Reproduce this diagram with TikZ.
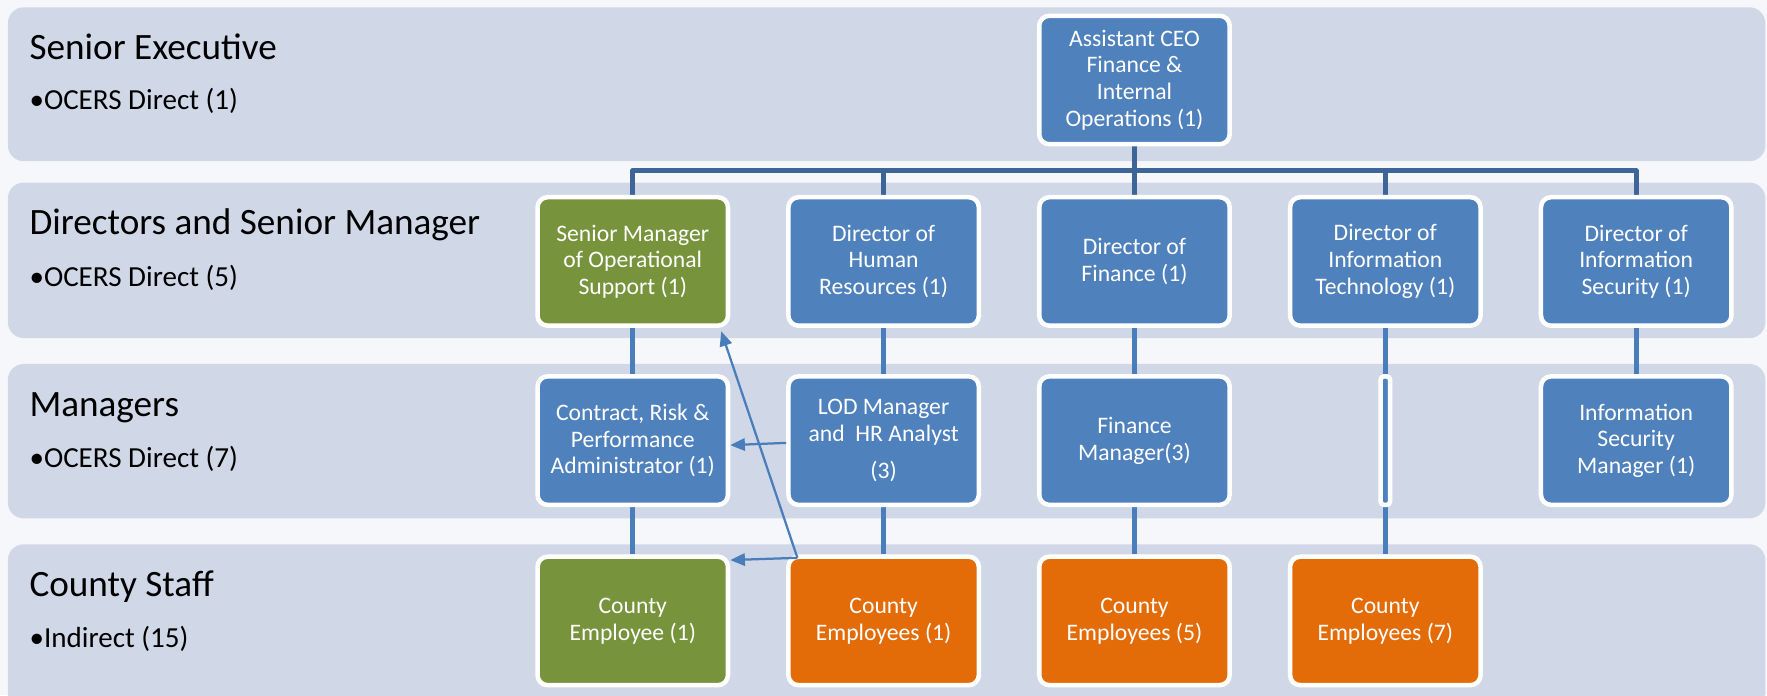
\documentclass[tikz,border=0pt]{standalone}
\usepackage{fontspec}
\setmainfont{Carlito}
\usetikzlibrary{arrows.meta,calc}
\pgfdeclarelayer{bg}
\pgfdeclarelayer{lines}
\pgfsetlayers{bg,lines,main}
\definecolor{bandc}{HTML}{D0D8E8}
\definecolor{boxblue}{HTML}{4F81BD}
\definecolor{boxgreen}{HTML}{77933C}
\definecolor{boxorange}{HTML}{E36C09}
\definecolor{buscol}{HTML}{3D6597}
\definecolor{linkcol}{HTML}{4A7EBB}
\definecolor{bgc}{HTML}{F6F7FA}
\begin{document}
\begin{tikzpicture}[x=1bp,y=-1bp,
  orgbox/.style={draw=white, line width=4bp, rounded corners=9bp,
    minimum width=169bp, minimum height=114bp, inner sep=0pt, text=white,
    align=center, font=\fontsize{21bp}{23.6bp}\selectfont},
  bluebox/.style={orgbox, fill=boxblue},
  greenbox/.style={orgbox, fill=boxgreen},
  orangebox/.style={orgbox, fill=boxorange},
  slimbox/.style={draw=white, line width=4bp, rounded corners=3bp, fill=boxblue,
    minimum width=8.4bp, minimum height=114bp, inner sep=0pt},
  band/.style={fill=bandc, rounded corners=14bp},
  lbl/.style={anchor=base west, inner sep=0pt, font=\fontsize{33bp}{36bp}\selectfont},
  sublbl/.style={anchor=base west, inner sep=0pt, font=\fontsize{25.8bp}{28bp}\selectfont},
  busline/.style={draw=buscol, line width=4.4bp, line join=round},
  link/.style={draw=linkcol, line width=4.4bp},
  relarrow/.style={draw=linkcol, line width=2bp, -{Triangle[length=13bp,width=11bp]}}]
\useasboundingbox (0,0) rectangle (1568,617);
\begin{pgfonlayer}{bg}
\fill[bgc] (0,0) rectangle (1568,617);
\clip (0,0) rectangle (1568,617);
\fill[band] (7,6.5) rectangle (1566.5,143);
\fill[band] (7,162) rectangle (1566.5,300);
\fill[band] (7,323) rectangle (1566.5,460);
\fill[band] (7,483) rectangle (1566.5,640);
\end{pgfonlayer}

% left labels
\node[lbl] (l1) at (26,52.7) {Senior Executive};
\node[sublbl] (s1) at (26,97) {\textbullet OCERS Direct (1)};
\node[lbl] (l2) at (26,208.5) {Directors and Senior Manager};
\node[sublbl] (s2) at (26,254.4) {\textbullet OCERS Direct (5)};
\node[lbl] (l3) at (26,369.5) {Managers};
\node[sublbl] (s3) at (26,415) {\textbullet OCERS Direct (7)};
\node[lbl] (l4) at (26,529.5) {County Staff};
\node[sublbl] (s4) at (26,575) {\textbullet Indirect (15)};

% org boxes
\node[bluebox] (ceo) at (1006.7,71) {Assistant CEO\\Finance \&\\Internal\\Operations (1)};

\node[greenbox] (d1) at (561.5,232) {Senior Manager\\of Operational\\Support (1)};
\node[bluebox] (d2) at (784.1,232) {Director of\\Human\\Resources (1)};
\node[bluebox] (d3) at (1006.7,232) {Director of\\Finance (1)};
\node[bluebox] (d4) at (1229.3,232) {Director of\\Information\\Technology (1)};
\node[bluebox] (d5) at (1451.9,232) {Director of\\Information\\Security (1)};

\node[bluebox] (m1) at (561.5,391) {Contract, Risk \&\\Performance\\Administrator (1)};
\node[bluebox] (m2) at (784.1,391) {LOD Manager\\and~~HR Analyst\\[9.2bp](3)};
\node[bluebox] (m3) at (1006.7,391) {Finance\\Manager(3)};
\node[slimbox] (m4) at (1229.3,391) {};
\node[bluebox] (m5) at (1451.9,391) {Information\\Security\\Manager (1)};

\node[greenbox] (c1) at (561.5,551) {County\\Employee (1)};
\node[orangebox] (c2) at (784.1,551) {County\\Employees (1)};
\node[orangebox] (c3) at (1006.7,551) {County\\Employees (5)};
\node[orangebox] (c4) at (1229.3,551) {County\\Employees (7)};

% connectors
\begin{pgfonlayer}{lines}
\coordinate (bus) at (1006.7,151.5);
\draw[busline] (d1.north) |- (bus) -| (d5.north);
\draw[busline] (ceo.south) -- (d3.north);
\draw[busline] (d2.north) -- (d2.north |- bus);
\draw[busline] (d4.north) -- (d4.north |- bus);
\draw[link] (d1.south) -- (m1.north);
\draw[link] (d2.south) -- (m2.north);
\draw[link] (d3.south) -- (m3.north);
\draw[link] (d4.south) -- (m4.north);
\draw[link] (d5.south) -- (m5.north);
\draw[link] (m1.south) -- (c1.north);
\draw[link] (m2.south) -- (c2.north);
\draw[link] (m3.south) -- (c3.north);
\draw[link] (m4.south) -- (c4.north);
\end{pgfonlayer}

% arrows
\coordinate (src) at ($(c2.north west)+(10,3)$);
\draw[relarrow] ([yshift=-2bp]m2.west) -- ([yshift=-4bp]m1.east);
\draw[relarrow] (src) -- ($(c1.north east)+(0,5)$);
\draw[relarrow] (src) -- ($(d1.south east)+(-8,3)$);
\end{tikzpicture}
\end{document}
